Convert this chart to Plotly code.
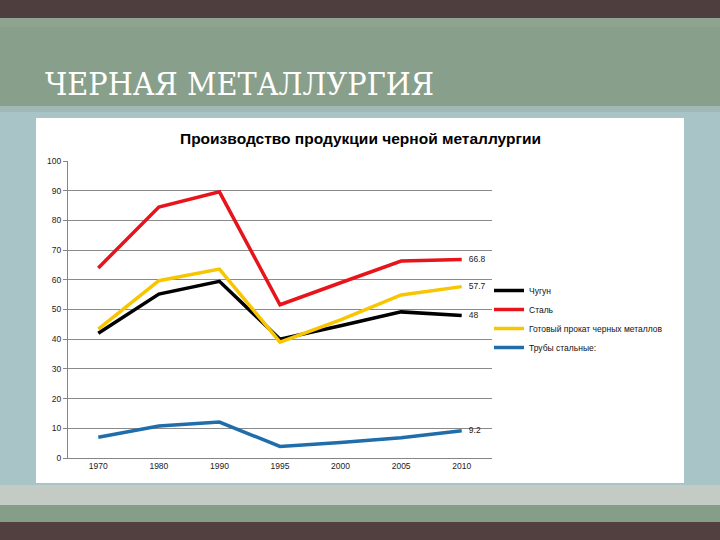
import plotly.graph_objects as go

years = ["1970", "1980", "1990", "1995", "2000", "2005", "2010"]
chugun = [42, 55.2, 59.5, 40, 44.5, 49.2, 48]
stal = [64, 84.5, 89.6, 51.6, 59, 66.3, 66.8]
prokat = [43.4, 59.7, 63.6, 39, 46.5, 54.9, 57.7]
truby = [7, 10.8, 12.1, 3.9, 5.2, 6.8, 9.2]

series = [
    ("Чугун", chugun, "#000000"),
    ("Сталь", stal, "#e8141b"),
    ("Готовый прокат черных металлов", prokat, "#f7c600"),
    ("Трубы стальные:", truby, "#1f6eab"),
]

W, H = 720, 540
L, R, T, B = 68, 492, 161, 458


def px(x):
    return (x - L) / (R - L)


def py(y):
    return (B - y) / (B - T)


fig = go.Figure()
for name, vals, color in series:
    labels = [""] * (len(vals) - 1) + ["   " + f"{vals[-1]:g}"]
    fig.add_trace(go.Scatter(x=years, y=vals, name=name, mode="lines+text",
                             text=labels, textposition="middle right",
                             textfont=dict(family="Liberation Sans", size=8.5, color="#222222"),
                             line=dict(color=color, width=3.5)))

shapes = []


def band(y0, y1, color, x0=0, x1=W):
    shapes.append(dict(type="rect", xref="paper", yref="paper",
                       x0=px(x0), x1=px(x1), y0=py(y1), y1=py(y0),
                       fillcolor=color, line=dict(width=0), layer="below"))


band(0, 540, "#a9c4c6")
band(0, 18, "#4f3e3e")
band(18, 27, "#8fa48f")
band(27, 106, "#88a08b")
band(106, 112, "#a0b9b6")
band(485, 505, "#c3cbc4")
band(505, 522, "#869e87")
band(522, 540, "#523f3f")
band(118, 483, "#ffffff", 36, 684)

annotations = [
    dict(text="ЧЕРНАЯ МЕТАЛЛУРГИЯ", xref="paper", yref="paper",
         x=px(43), y=py(84), xanchor="left", yanchor="middle", showarrow=False,
         font=dict(family="DejaVu Serif Condensed", size=32, color="#ffffff")),
    dict(text="<b>Производство продукции черной металлургии</b>", xref="paper", yref="paper",
         x=px(360), y=py(138), xanchor="center", yanchor="middle", showarrow=False,
         font=dict(family="Liberation Sans", size=15.5, color="#000000")),
]

fig.update_layout(
    width=W, height=H,
    margin=dict(l=L, r=W - R, t=T, b=H - B, pad=0),
    paper_bgcolor="#a9c4c6",
    plot_bgcolor="rgba(0,0,0,0)",
    shapes=shapes,
    annotations=annotations,
    showlegend=True,
    legend=dict(x=px(489), y=py(276), xanchor="left", yanchor="top",
                font=dict(family="Liberation Sans", size=8.5, color="#111111"),
                bgcolor="rgba(0,0,0,0)", itemwidth=30, tracegroupgap=0),
    xaxis=dict(type="category", range=[-0.5, len(years) - 0.5], showgrid=False,
               showline=True, linecolor="#868686",
               linewidth=1, ticks="", tickfont=dict(family="Liberation Sans", size=8.5, color="#222222")),
    yaxis=dict(range=[0, 100], dtick=10, showgrid=True, gridcolor="#8a8a8a", gridwidth=1,
               showline=True, linecolor="#868686", ticks="outside", ticklen=4, tickcolor="#868686",
               zeroline=False,
               tickfont=dict(family="Liberation Sans", size=8.5, color="#222222")),
    font=dict(family="Liberation Sans"),
)

fig.write_html("out.html", config={"displayModeBar": False},
               post_script="document.body.style.margin='0';")
